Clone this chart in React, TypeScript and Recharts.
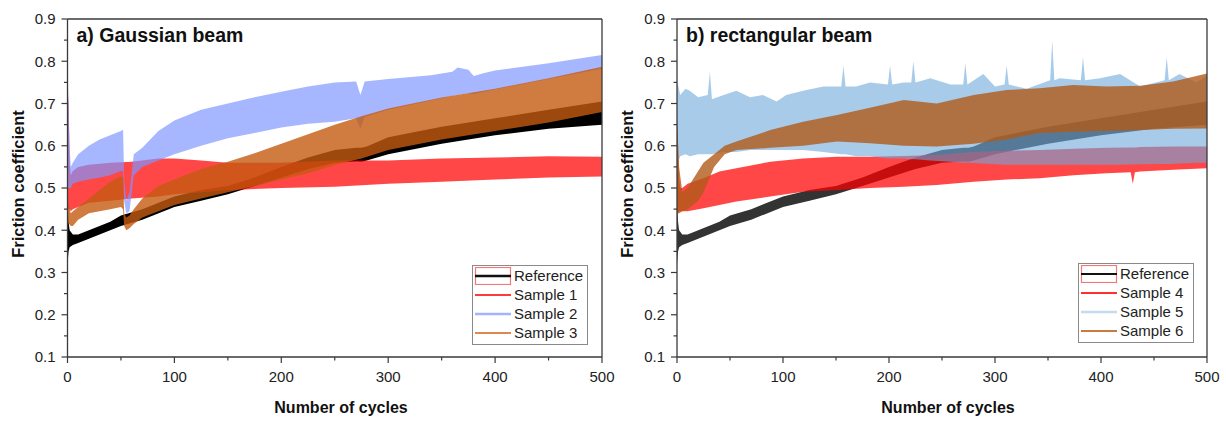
import { Area, ComposedChart, Label, Legend, ReferenceLine, XAxis, YAxis } from 'recharts'

// --- data (cycle positions + lower/upper edge of each noisy band) ---
const CYCLE_TICKS = [0, 50, 100, 150, 200, 250, 300, 350, 400, 450, 500]
const COF_TICKS = [0.1, 0.15, 0.2, 0.25, 0.3, 0.35, 0.4, 0.45, 0.5, 0.55, 0.6, 0.65, 0.7, 0.75, 0.8, 0.85, 0.9]

// Reference (same run shown in both panels)
const REF_X = [0, 1, 2, 5, 10, 20, 30, 40, 50, 70, 100, 125, 150, 175, 200, 225, 250, 270, 275, 280, 300, 350, 400, 450, 500]
const REF_LO = [0.32, 0.35, 0.36, 0.365, 0.37, 0.38, 0.39, 0.4, 0.41, 0.425, 0.455, 0.47, 0.485, 0.505, 0.525, 0.545, 0.56, 0.563, 0.562, 0.565, 0.58, 0.605, 0.625, 0.64, 0.65]
const REF_HI = [0.47, 0.42, 0.4, 0.39, 0.39, 0.4, 0.41, 0.42, 0.435, 0.45, 0.48, 0.495, 0.505, 0.525, 0.55, 0.572, 0.59, 0.595, 0.595, 0.598, 0.62, 0.645, 0.665, 0.685, 0.705]

// a) Gaussian beam
const S1_X = [0, 1, 2, 3, 5, 10, 20, 40, 60, 85, 100, 125, 150, 200, 250, 300, 350, 400, 450, 500]
const S1_LO = [0.45, 0.45, 0.45, 0.445, 0.45, 0.455, 0.465, 0.47, 0.475, 0.48, 0.485, 0.49, 0.495, 0.5, 0.503, 0.51, 0.515, 0.52, 0.525, 0.527]
const S1_HI = [0.73, 0.7, 0.56, 0.53, 0.54, 0.55, 0.555, 0.56, 0.562, 0.57, 0.57, 0.565, 0.56, 0.56, 0.565, 0.565, 0.57, 0.572, 0.575, 0.574]

const S2_X = [0, 1, 2, 3, 5, 10, 20, 30, 40, 50, 52, 53, 55, 58, 62, 70, 85, 100, 125, 150, 175, 200, 225, 250, 270, 274, 278, 300, 340, 360, 365, 375, 380, 390, 400, 450, 500]
const S2_LO = [0.5, 0.5, 0.5, 0.5, 0.51, 0.515, 0.52, 0.525, 0.53, 0.54, 0.54, 0.47, 0.44, 0.445, 0.53, 0.55, 0.565, 0.58, 0.6, 0.618, 0.63, 0.643, 0.652, 0.657, 0.665, 0.64, 0.668, 0.685, 0.707, 0.718, 0.72, 0.724, 0.722, 0.728, 0.733, 0.758, 0.782]
const S2_HI = [0.78, 0.7, 0.6, 0.55, 0.56, 0.58, 0.6, 0.615, 0.625, 0.635, 0.638, 0.52, 0.47, 0.49, 0.58, 0.595, 0.635, 0.66, 0.685, 0.7, 0.715, 0.728, 0.74, 0.75, 0.752, 0.72, 0.752, 0.758, 0.767, 0.775, 0.785, 0.78, 0.765, 0.772, 0.778, 0.795, 0.815]

const S3_X = [0, 3, 5, 10, 20, 30, 40, 50, 52, 53, 55, 58, 62, 70, 85, 100, 125, 150, 175, 200, 225, 250, 275, 300, 350, 400, 450, 500]
const S3_LO = [0.42, 0.41, 0.41, 0.425, 0.44, 0.445, 0.45, 0.455, 0.45, 0.41, 0.4, 0.405, 0.415, 0.43, 0.445, 0.46, 0.475, 0.49, 0.505, 0.52, 0.535, 0.555, 0.57, 0.59, 0.615, 0.635, 0.655, 0.68]
const S3_HI = [0.47, 0.44, 0.445, 0.455, 0.475, 0.495, 0.515, 0.528, 0.525, 0.44, 0.43, 0.435, 0.45, 0.475, 0.505, 0.52, 0.545, 0.562, 0.582, 0.605, 0.627, 0.65, 0.67, 0.688, 0.714, 0.735, 0.76, 0.787]

// b) rectangular beam
const S4_X = [0, 1, 2, 3, 5, 10, 25, 40, 56, 88, 119, 151, 182, 214, 245, 280, 311, 342, 374, 405, 428, 430, 432, 437, 468, 500]
const S4_LO = [0.44, 0.44, 0.445, 0.445, 0.445, 0.445, 0.452, 0.46, 0.468, 0.48, 0.491, 0.495, 0.5, 0.503, 0.507, 0.515, 0.52, 0.523, 0.53, 0.535, 0.537, 0.51, 0.537, 0.539, 0.543, 0.547]
const S4_HI = [0.66, 0.6, 0.52, 0.5, 0.5, 0.51, 0.523, 0.539, 0.547, 0.562, 0.57, 0.574, 0.574, 0.576, 0.578, 0.585, 0.588, 0.59, 0.593, 0.595, 0.596, 0.596, 0.596, 0.597, 0.598, 0.598]

const S5_X = [0, 1, 3, 8, 12, 20, 29, 31, 33, 44, 56, 69, 81, 94, 103, 119, 138, 155, 157, 159, 169, 182, 199, 201, 203, 214, 221, 223, 225, 239, 258, 270, 272, 274, 289, 300, 309, 311, 313, 330, 352, 354, 356, 361, 381, 383, 385, 399, 418, 437, 460, 462, 464, 474, 490, 500]
const S5_LO = [0.52, 0.56, 0.575, 0.58, 0.575, 0.58, 0.58, 0.58, 0.58, 0.585, 0.585, 0.59, 0.59, 0.59, 0.59, 0.59, 0.585, 0.58, 0.58, 0.58, 0.575, 0.575, 0.57, 0.57, 0.57, 0.57, 0.568, 0.568, 0.568, 0.565, 0.562, 0.56, 0.56, 0.56, 0.558, 0.556, 0.555, 0.555, 0.555, 0.555, 0.555, 0.555, 0.555, 0.555, 0.555, 0.555, 0.555, 0.555, 0.555, 0.556, 0.557, 0.557, 0.557, 0.558, 0.56, 0.56]
const S5_HI = [0.75, 0.745, 0.72, 0.735, 0.73, 0.715, 0.72, 0.775, 0.71, 0.72, 0.73, 0.715, 0.72, 0.705, 0.72, 0.73, 0.74, 0.74, 0.79, 0.74, 0.74, 0.75, 0.745, 0.79, 0.745, 0.75, 0.75, 0.8, 0.75, 0.76, 0.745, 0.745, 0.795, 0.745, 0.77, 0.74, 0.745, 0.79, 0.745, 0.735, 0.755, 0.85, 0.755, 0.76, 0.755, 0.81, 0.755, 0.76, 0.77, 0.74, 0.755, 0.81, 0.755, 0.77, 0.75, 0.765]

const S6_X = [0, 2, 5, 10, 20, 25, 35, 45, 56, 88, 119, 151, 182, 214, 245, 280, 311, 342, 374, 405, 437, 468, 500]
const S6_LO = [0.44, 0.44, 0.445, 0.45, 0.47, 0.49, 0.55, 0.58, 0.59, 0.595, 0.6, 0.61, 0.606, 0.6, 0.598, 0.605, 0.615, 0.63, 0.633, 0.635, 0.637, 0.64, 0.641]
const S6_HI = [0.67, 0.55, 0.49, 0.5, 0.54, 0.56, 0.58, 0.6, 0.61, 0.637, 0.657, 0.673, 0.69, 0.708, 0.7, 0.72, 0.732, 0.736, 0.744, 0.74, 0.742, 0.752, 0.771]

const FONT = '"Liberation Sans", Arial, sans-serif'
const AXIS = '#3a3a3a'

const band = (xs: number[], lo: number[], hi: number[]) =>
  xs.map((c, i) => ({ c, r: [lo[i], hi[i]] }))

function XTick({ x, y, payload }: any) {
  const major = payload.value % 100 === 0
  return (
    <g>
      <line x1={x} x2={x} y1={y} y2={y + (major ? 6 : 3.5)} stroke={AXIS} strokeWidth={1.2} />
      {major && (
        <text x={x} y={y + 25} textAnchor="middle" fontSize={15} fill="#222" fontFamily={FONT}>
          {payload.value}
        </text>
      )}
    </g>
  )
}

function YTick({ x, y, payload }: any) {
  const major = Math.round(payload.value * 100) % 10 === 0
  return (
    <g>
      <line x1={x} x2={x - (major ? 6 : 3.5)} y1={y} y2={y} stroke={AXIS} strokeWidth={1.2} />
      {major && (
        <text x={x - 12} y={y} dy="0.36em" textAnchor="end" fontSize={15} fill="#222" fontFamily={FONT}>
          {payload.value.toFixed(1)}
        </text>
      )}
    </g>
  )
}

interface LegendItem {
  name: string
  color: string
  width: number
  box?: boolean
}

function LegendBox({ items }: { items: LegendItem[] }) {
  return (
    <div
      style={{
        width: 116, height: 80, boxSizing: 'border-box', border: '1px solid #8a8a8a',
        background: '#fff', paddingTop: 1, fontFamily: FONT, fontSize: 15, color: '#222',
      }}
    >
      {items.map((it) => (
        <div key={it.name} style={{ display: 'flex', alignItems: 'center', height: 18.9 }}>
          <svg width={40} height={18} style={{ flex: 'none' }}>
            {it.box && <rect x={2.5} y={0.5} width={35} height={17} fill="none" stroke="#f07878" strokeWidth={1.2} />}
            <line x1={2} x2={38} y1={9} y2={9} stroke={it.color} strokeWidth={it.width} />
          </svg>
          <span style={{ marginLeft: 1, lineHeight: '18px' }}>{it.name}</span>
        </div>
      ))}
    </div>
  )
}

interface Series {
  xs: number[]
  lo: number[]
  hi: number[]
  fill: string
  opacity: number
}

interface PanelProps {
  width: number
  yAxisWidth: number
  marginRight: number
  title: string
  xLabelX: number
  yLabelX: number
  series: Series[]
  legend: LegendItem[]
  legendPos: { left: number; top: number }
}

function Panel({ width, yAxisWidth, marginRight, title, xLabelX, yLabelX, series, legend, legendPos }: PanelProps) {
  return (
    <ComposedChart width={width} height={422} margin={{ top: 19, right: marginRight, bottom: 0, left: 0 }}>
      <XAxis
        dataKey="c" type="number" domain={[0, 500]} ticks={CYCLE_TICKS} interval={0}
        allowDataOverflow height={65} tickLine={false} tickSize={0} tickMargin={0}
        tick={<XTick />} axisLine={{ stroke: AXIS, strokeWidth: 1.3 }}
      >
        <Label
          content={() => (
            <text x={xLabelX} y={413} textAnchor="middle" fontSize={16} fontWeight="bold" fill="#111" fontFamily={FONT}>
              Number of cycles
            </text>
          )}
        />
      </XAxis>
      <YAxis
        type="number" domain={[0.1, 0.9]} ticks={COF_TICKS} interval={0} allowDataOverflow
        width={yAxisWidth} tickLine={false} tickSize={0} tickMargin={0}
        tick={<YTick />} axisLine={{ stroke: AXIS, strokeWidth: 1.3 }}
      >
        <Label
          content={() => (
            <g fontFamily={FONT} fontWeight="bold" fill="#111">
              <text transform={`translate(${yLabelX},184) rotate(-90)`} textAnchor="middle" dy="0.35em" fontSize={16.5}>
                Friction coefficient
              </text>
              <text x={yAxisWidth + 9} y={42} fontSize={19.5}>{title}</text>
            </g>
          )}
        />
      </YAxis>
      {series.map((s, i) => (
        <Area
          key={i} data={band(s.xs, s.lo, s.hi)} dataKey="r" type="linear"
          stroke="none" fill={s.fill} fillOpacity={s.opacity}
          isAnimationActive={false} legendType="none"
        />
      ))}
      <ReferenceLine y={0.9} stroke={AXIS} strokeWidth={1.3} />
      <ReferenceLine x={500} stroke={AXIS} strokeWidth={1.3} />
      <Legend
        layout="vertical" align="center" verticalAlign="middle"
        wrapperStyle={{ left: legendPos.left, top: legendPos.top, width: 116, height: 80 }}
        content={() => <LegendBox items={legend} />}
      />
    </ComposedChart>
  )
}

export default function App() {
  const seriesA: Series[] = [
    { xs: REF_X, lo: REF_LO, hi: REF_HI, fill: '#000', opacity: 1 },
    { xs: S1_X, lo: S1_LO, hi: S1_HI, fill: '#ff0000', opacity: 0.72 },
    { xs: S2_X, lo: S2_LO, hi: S2_HI, fill: '#7d95ff', opacity: 0.68 },
    { xs: S3_X, lo: S3_LO, hi: S3_HI, fill: '#c45a10', opacity: 0.8 },
  ]
  const seriesB: Series[] = [
    { xs: REF_X, lo: REF_LO, hi: REF_HI, fill: '#000', opacity: 0.8 },
    { xs: S4_X, lo: S4_LO, hi: S4_HI, fill: '#ff0000', opacity: 0.72 },
    { xs: S5_X, lo: S5_LO, hi: S5_HI, fill: '#6fa8dc', opacity: 0.6 },
    { xs: S6_X, lo: S6_LO, hi: S6_HI, fill: '#b05a18', opacity: 0.8 },
  ]
  const legendA: LegendItem[] = [
    { name: 'Reference', color: '#111', width: 2.5, box: true },
    { name: 'Sample 1', color: '#ff3b3b', width: 2 },
    { name: 'Sample 2', color: '#a3b3ff', width: 2.5 },
    { name: 'Sample 3', color: '#d2601a', width: 1.5 },
  ]
  const legendB: LegendItem[] = [
    { name: 'Reference', color: '#111', width: 2, box: true },
    { name: 'Sample 4', color: '#ff3030', width: 2 },
    { name: 'Sample 5', color: '#c4dcf0', width: 2.5 },
    { name: 'Sample 6', color: '#c87a40', width: 2 },
  ]
  return (
    <div style={{ position: 'absolute', left: 0, top: 0, width: 1226, height: 422, background: '#fff', fontFamily: FONT }}>
      <div style={{ position: 'absolute', left: 0, top: 0 }}>
        <Panel
          width={618} yAxisWidth={67.5} marginRight={16} title="a) Gaussian beam"
          xLabelX={341} yLabelX={18} series={seriesA} legend={legendA}
          legendPos={{ left: 472, top: 265 }}
        />
      </div>
      <div style={{ position: 'absolute', left: 618, top: 0 }}>
        <Panel
          width={608} yAxisWidth={59} marginRight={19} title="b) rectangular beam"
          xLabelX={330} yLabelX={9} series={seriesB} legend={legendB}
          legendPos={{ left: 460, top: 263 }}
        />
      </div>
    </div>
  )
}
